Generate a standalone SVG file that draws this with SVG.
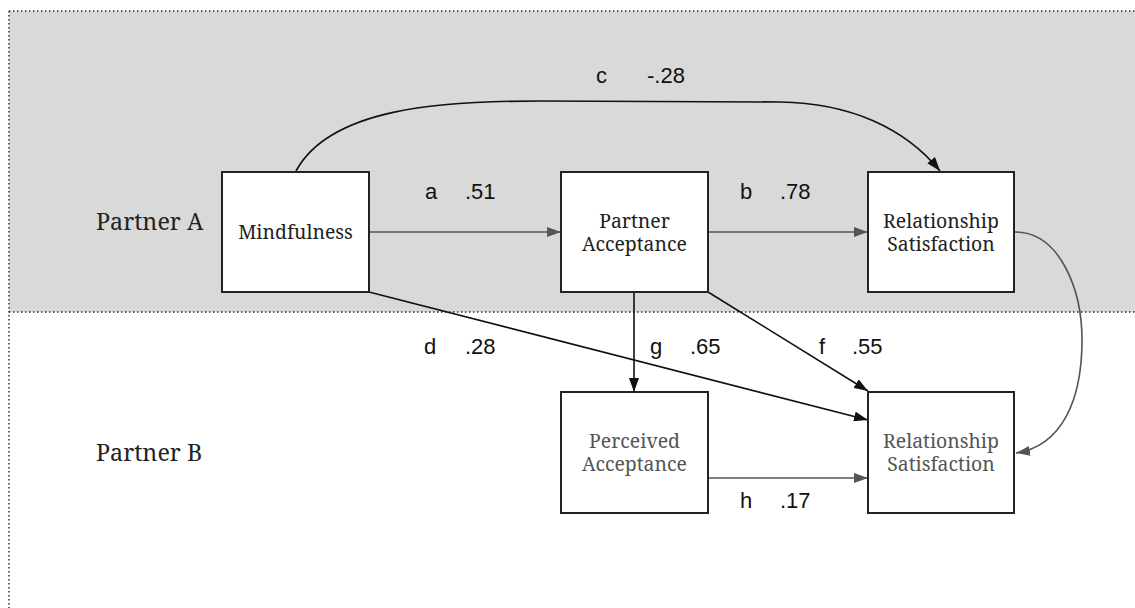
<svg xmlns="http://www.w3.org/2000/svg" width="1135" height="608" viewBox="0 0 1135 608">
<style>
.box{fill:#fff;stroke:#222;stroke-width:2}
.nt{font-family:"Noto Serif","DejaVu Serif","Liberation Serif",serif;font-size:19.4px;fill:#222;text-anchor:middle}
.ntg{fill:#555}
.pl{font-family:"Noto Serif","DejaVu Serif","Liberation Serif",serif;font-size:23.3px;fill:#222}
.lb{font-family:"Liberation Sans",Arial,sans-serif;font-size:22px;fill:#111}
.cg{fill:none;stroke:#555;stroke-width:1.6}
.ck{fill:none;stroke:#111;stroke-width:1.6}
.dot{fill:none;stroke:#222;stroke-width:1.4;stroke-dasharray:1.4 2.6}
</style>
<defs>
<marker id="ag" markerWidth="14" markerHeight="10" refX="14" refY="5" orient="auto" markerUnits="userSpaceOnUse"><path d="M0,0 L14,5 L0,10 Z" fill="#555"/></marker>
<marker id="ak" markerWidth="14" markerHeight="10" refX="14" refY="5" orient="auto" markerUnits="userSpaceOnUse"><path d="M0,0 L14,5 L0,10 Z" fill="#111"/></marker>
</defs>
<g id="background">
<rect x="9" y="11" width="1126" height="301" fill="#d9d9d9"/>
<line class="dot" x1="9" y1="11" x2="1135" y2="11"/>
<line class="dot" x1="9" y1="312" x2="1135" y2="312"/>
<line class="dot" x1="9" y1="11" x2="9" y2="608"/>
<text class="pl" x="96" y="230">Partner A</text>
<text class="pl" x="96" y="461">Partner B</text>
</g>
<g id="connectors">
<path class="cg" d="M369,232 L561,232" marker-end="url(#ag)"/>
<path class="cg" d="M708,232 L868,232" marker-end="url(#ag)"/>
<path class="ck" d="M296,171 C330,108 440,101 540,101 L780,102 C850,103 905,128 940,171" marker-end="url(#ak)"/>
<path class="ck" d="M369,292 L868,420" marker-end="url(#ak)"/>
<path class="ck" d="M708,292 L868,391" marker-end="url(#ak)"/>
<path class="ck" d="M634,292 L634,392" marker-end="url(#ak)"/>
<path class="cg" d="M708,478 L868,478" marker-end="url(#ag)"/>
<path class="cg" d="M1015,232 C1060,232 1082,290 1082,340 C1082,400 1062,446 1016,453" marker-end="url(#ag)"/>
<text class="lb" x="596" y="83">c</text><text class="lb" x="647" y="83">-.28</text>
<text class="lb" x="425" y="199">a</text><text class="lb" x="465" y="199">.51</text>
<text class="lb" x="740" y="199">b</text><text class="lb" x="780" y="199">.78</text>
<text class="lb" x="424" y="354">d</text><text class="lb" x="465" y="354">.28</text>
<text class="lb" x="650" y="354">g</text><text class="lb" x="690" y="354">.65</text>
<text class="lb" x="819" y="354">f</text><text class="lb" x="852" y="354">.55</text>
<text class="lb" x="740" y="508">h</text><text class="lb" x="780" y="508">.17</text>
</g>
<g id="mindfulness">
<rect class="box" x="222" y="172" width="147" height="120"/>
<text class="nt" x="295.5" y="239">Mindfulness</text>
</g>
<g id="partner-acceptance">
<rect class="box" x="561" y="172" width="147" height="120"/>
<text class="nt" x="634.5" y="227.5">Partner</text>
<text class="nt" x="634.5" y="250.5">Acceptance</text>
</g>
<g id="relsat-a">
<rect class="box" x="868" y="172" width="146" height="120"/>
<text class="nt" x="941" y="227.5">Relationship</text>
<text class="nt" x="941" y="250.5">Satisfaction</text>
</g>
<g id="perceived-acceptance">
<rect class="box" x="561" y="392" width="147" height="121"/>
<text class="nt ntg" x="634.5" y="447.5">Perceived</text>
<text class="nt ntg" x="634.5" y="470.5">Acceptance</text>
</g>
<g id="relsat-b">
<rect class="box" x="868" y="392" width="146" height="121"/>
<text class="nt ntg" x="941" y="447.5">Relationship</text>
<text class="nt ntg" x="941" y="470.5">Satisfaction</text>
</g>
</svg>
